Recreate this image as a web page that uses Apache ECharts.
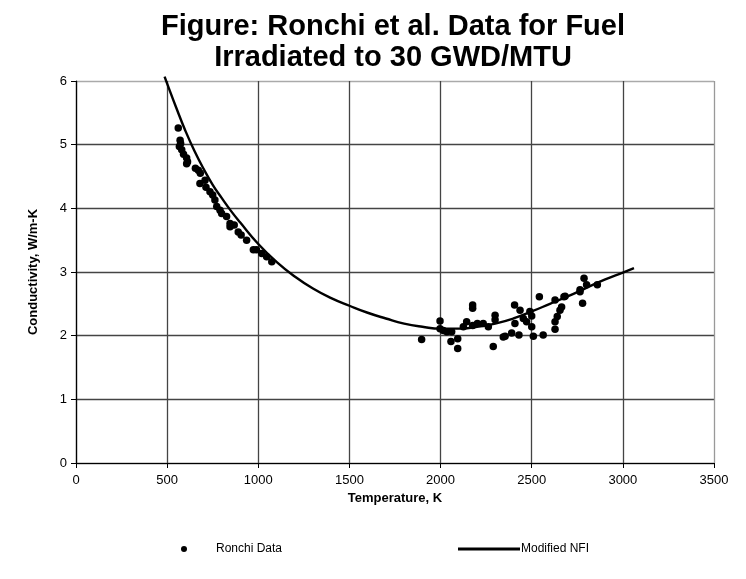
<!DOCTYPE html>
<html><head><meta charset="utf-8">
<script src="https://cdn.jsdelivr.net/npm/echarts@6/dist/echarts.min.js"></script>
<style>html,body{margin:0;padding:0;background:#fff}#c{width:746px;height:579px}</style>
</head><body><div id="c"></div>
<script>
// Ronchi et al. measured conductivity (T in K, k in W/m-K)
var ronchiT = [561,571,574,567,580,590,607,612,607,655,671,682,708,680,713,735,750,762,772,790,799,826,845,868,845,890,906,936,973,990,1019,1046,1074,
  1896,1997,1997,2015,2034,2061,2057,2094,2094,2125,2143,2176,2176,2176,2202,2234,2262,2289,2299,2299,2344,2354,2390,2406,2408,2430,2436,2454,2472,2490,2500,2500,2509,2542,2563,2628,2628,2628,2640,2655,2664,2677,2683,2765,2765,2779,2787,2801,2860];
var ronchiK = [5.26,5.07,5.02,4.97,4.92,4.85,4.79,4.73,4.70,4.63,4.60,4.55,4.44,4.39,4.33,4.26,4.21,4.13,4.03,3.97,3.92,3.87,3.76,3.74,3.71,3.63,3.58,3.50,3.35,3.35,3.29,3.24,3.16,
  1.94,2.23,2.11,2.08,2.06,2.06,1.91,1.95,1.80,2.14,2.22,2.48,2.43,2.16,2.19,2.19,2.14,1.83,2.32,2.25,1.98,1.99,2.04,2.48,2.19,2.01,2.40,2.27,2.22,2.38,2.31,2.14,1.99,2.61,2.01,2.56,2.22,2.10,2.30,2.40,2.45,2.61,2.62,2.69,2.72,2.51,2.90,2.80,2.80];
// Modified NFI model curve
var nfiT = [486,500,550,600,650,700,750,800,850,900,1000,1100,1200,1300,1400,1500,1600,1700,1800,1900,2000,2100,2200,2300,2400,2500,2600,2700,2800,2900,3000,3061];
var nfiK = [6.07,5.96,5.58,5.22,4.90,4.62,4.37,4.16,3.96,3.78,3.44,3.16,2.93,2.74,2.59,2.47,2.36,2.27,2.19,2.14,2.11,2.11,2.14,2.19,2.27,2.38,2.50,2.62,2.75,2.88,2.99,3.06];
var xTicks = [0,500,1000,1500,2000,2500,3000,3500];
var yTicks = [0,1,2,3,4,5,6];

var scatterData = ronchiT.map(function(t,i){return [t, ronchiK[i]];});
var lineData = nfiT.map(function(t,i){return [t, nfiK[i]];});

var chart = echarts.init(document.getElementById('c'), null, {renderer:'canvas'});
var FONT = 'Liberation Sans, Arial, sans-serif';
chart.setOption({
  animation:false,
  backgroundColor:'#fff',
  title:{
    text:'Figure: Ronchi et al. Data for Fuel\nIrradiated to 30 GWD/MTU',
    left:388, top:6, textAlign:'center',
    textStyle:{fontFamily:FONT, fontWeight:'bold', fontSize:29, lineHeight:31, color:'#000'}
  },
  grid:{left:76, right:32, top:81, bottom:116, containLabel:false},
  xAxis:{
    type:'value', min:xTicks[0], max:xTicks[xTicks.length-1], interval:500,
    name:'Temperature, K', nameLocation:'middle', nameGap:29,
    nameTextStyle:{fontFamily:FONT, fontWeight:'bold', fontSize:13, color:'#000'},
    axisLine:{lineStyle:{color:'#000', width:1.2}},
    axisTick:{show:true, inside:false, length:5, lineStyle:{color:'#000'}},
    axisLabel:{fontFamily:FONT, fontSize:13, color:'#000', margin:11, formatter:function(v){return String(v);}},
    splitLine:{show:true, lineStyle:{color:['#444','#444','#444','#444','#444','#444','#444','#999'], width:1.3}}
  },
  yAxis:{
    type:'value', min:yTicks[0], max:yTicks[yTicks.length-1], interval:1,
    name:'Conductivity, W/m-K', nameLocation:'middle', nameGap:36,
    nameTextStyle:{fontFamily:FONT, fontWeight:'bold', fontSize:13, color:'#000'},
    axisLine:{show:true, lineStyle:{color:'#000', width:1.2}},
    axisTick:{show:true, inside:false, length:5, lineStyle:{color:'#000'}},
    axisLabel:{fontFamily:FONT, fontSize:13, color:'#000', margin:9, formatter:function(v){return String(v);}},
    splitLine:{show:true, lineStyle:{color:['#444','#444','#444','#444','#444','#444','#aaa'], width:1.3}}
  },
  legend:[
    {data:['Ronchi Data'], left:176, top:538, icon:'circle', itemWidth:6, itemHeight:6,
     textStyle:{fontFamily:FONT, fontSize:12, color:'#000', padding:[0,0,0,24]}},
    {data:['Modified NFI'], left:453, top:538, icon:'rect', itemWidth:62, itemHeight:3,
     textStyle:{fontFamily:FONT, fontSize:12, color:'#000', padding:[0,0,0,-4]}}
  ],
  series:[
    {name:'Ronchi Data', type:'scatter', data:scatterData, symbol:'circle', symbolSize:7.5,
     itemStyle:{color:'#000', opacity:1}, z:3},
    {name:'Modified NFI', type:'line', data:lineData, smooth:true, symbol:'none', clip:false,
     lineStyle:{color:'#000', width:2.4}, itemStyle:{color:'#000'}, z:4}
  ]
});
</script></body></html>
